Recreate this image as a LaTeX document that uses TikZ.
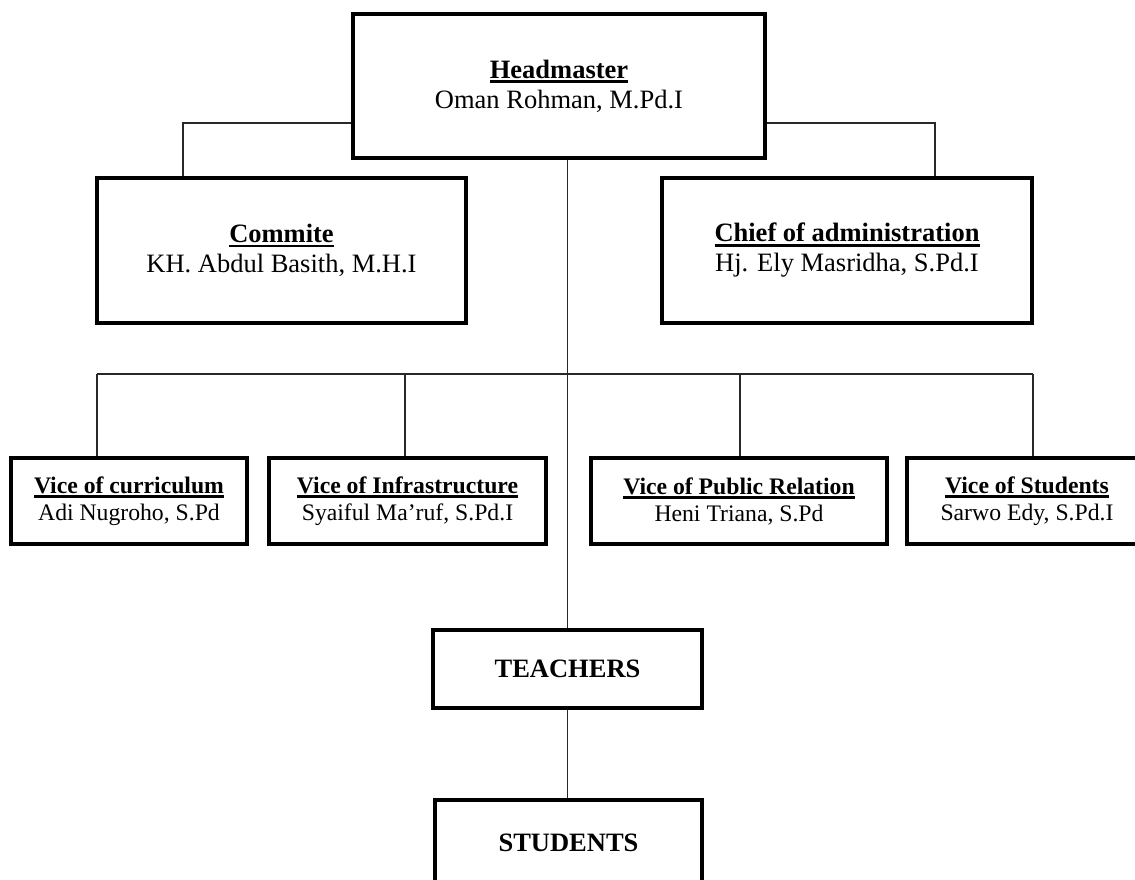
\documentclass[tikz,border=0pt]{standalone}
\usepackage{fontspec}
\setmainfont{Liberation Serif}
\usepackage{tikz}
\definecolor{line_grey}{RGB}{40,40,40}

\newcommand{\posttitle}[1]{\setbox0\hbox{\textbf{#1}}\rlap{\rule[-4.6pt]{\wd0}{2.6pt}}\box0}

\tikzset{
	mainbox/.style={rectangle,draw=black,line width=3.2pt,fill=white,align=center,inner sep=0pt,font=\fontsize{26.5}{30}\selectfont},
	vicebox/.style={mainbox,minimum height=86pt,font=\fontsize{23.7}{27}\selectfont},
	link/.style={draw=line_grey,line width=1.4pt}
}

\begin{document}
\begin{tikzpicture}[x=1pt,y=-1pt]
	\useasboundingbox (0,0) rectangle (1135,880);

	\node[mainbox,minimum width=412pt,minimum height=144pt] (head) at (559,86) {\posttitle{Headmaster}\\Oman Rohman, M.Pd.I};
	\node[mainbox,minimum width=369pt,minimum height=145pt] (commite) at (281.5,250.5) {\posttitle{Commite}\\KH. Abdul Basith, M.H.I};
	\node[mainbox,minimum width=370pt,minimum height=145pt] (chief) at (847,250.5) {\posttitle{Chief of administration}\\Hj. Ely Masridha, S.Pd.I};

	\node[vicebox,minimum width=236pt] (vcur) at (129,501) {\posttitle{Vice of curriculum}\\Adi Nugroho, S.Pd};
	\node[vicebox,minimum width=277pt] (vinf) at (407.5,501) {\posttitle{Vice of Infrastructure}\\Syaiful Ma’ruf, S.Pd.I};
	\node[vicebox,minimum width=296pt] (vpub) at (739,501) {\posttitle{Vice of Public Relation}\\Heni Triana, S.Pd};
	\node[vicebox,minimum width=240pt] (vstu) at (1027,501) {\posttitle{Vice of Students}\\Sarwo Edy, S.Pd.I};

	\node[mainbox,minimum width=269pt,minimum height=78pt] (teachers) at (567.5,669) {\textbf{TEACHERS}};
	\node[mainbox,minimum width=267pt,minimum height=86pt] (students) at (568.5,843) {\textbf{STUDENTS}};

	\coordinate (hl) at (183,123);
	\coordinate (hr) at (935,123);
	\coordinate (d1) at (97,374);
	\coordinate (d2) at (405,374);
	\coordinate (d3) at (740,374);
	\coordinate (d4) at (1033,374);

	\draw[link] (head.west |- hl) -| (hl |- commite.north);
	\draw[link] (head.east |- hr) -| (hr |- chief.north);
	\draw[link] (head.south -| teachers.north) -- (teachers.north);
	\draw[link] (d1) -- (d4);
	\foreach \d/\v in {d1/vcur,d2/vinf,d3/vpub,d4/vstu}
		\draw[link] (\d) -- (\d |- \v.north);
	\draw[link] (teachers.south) -- (teachers.south |- students.north);
\end{tikzpicture}
\end{document}
